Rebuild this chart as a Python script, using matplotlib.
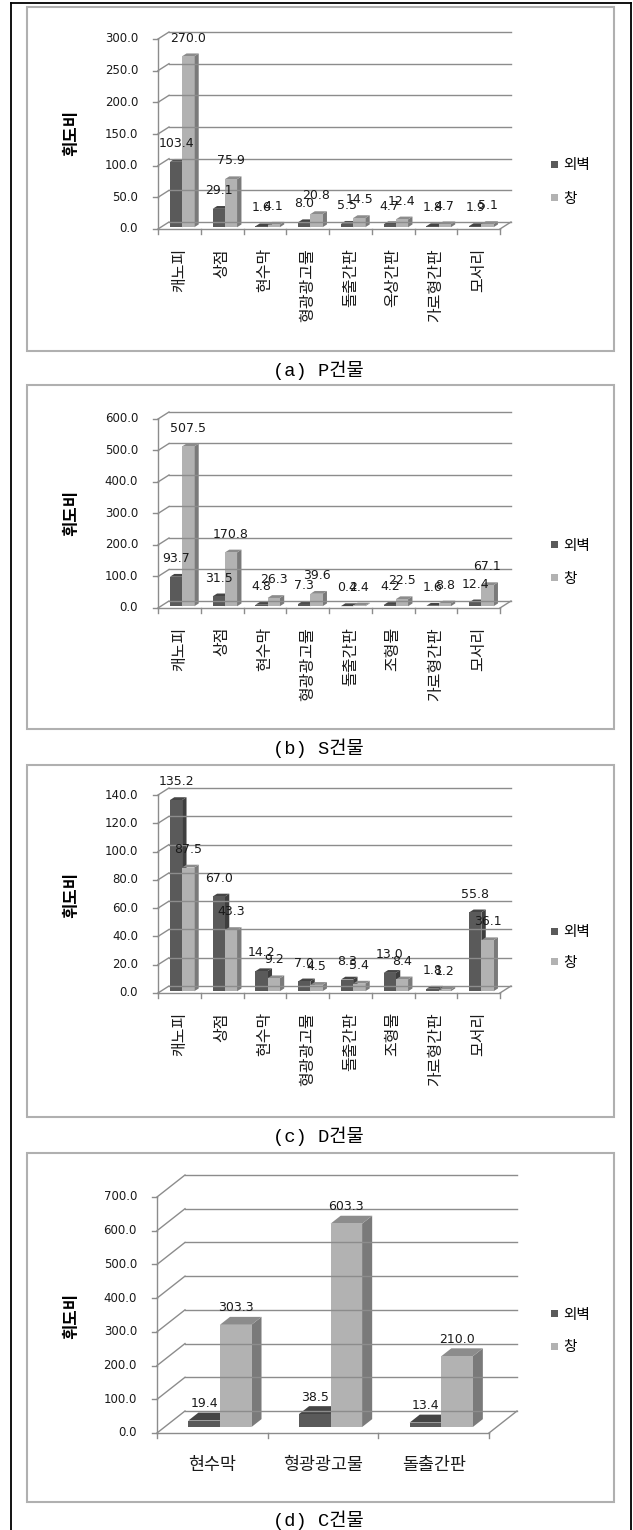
import matplotlib.pyplot as plt
from matplotlib.patches import Polygon, Rectangle
from matplotlib.lines import Line2D

W, H = 633, 1530

# luminance ratio (휘도비) per building: 외벽 (wall) vs 창 (window)
cats_a = ['캐노피', '상점', '현수막', '형광광고물', '돌출간판', '옥상간판', '가로형간판', '모서리']
wall_a = [103.4, 29.1, 1.6, 8.0, 5.5, 4.7, 1.8, 1.9]
window_a = [270.0, 75.9, 4.1, 20.8, 14.5, 12.4, 4.7, 5.1]

cats_b = ['캐노피', '상점', '현수막', '형광광고물', '돌출간판', '조형물', '가로형간판', '모서리']
wall_b = [93.7, 31.5, 4.8, 7.3, 0.4, 4.2, 1.6, 12.4]
window_b = [507.5, 170.8, 26.3, 39.6, 2.4, 22.5, 8.8, 67.1]

cats_c = ['캐노피', '상점', '현수막', '형광광고물', '돌출간판', '조형물', '가로형간판', '모서리']
wall_c = [135.2, 67.0, 14.2, 7.0, 8.3, 13.0, 1.8, 55.8]
window_c = [87.5, 43.3, 9.2, 4.5, 5.4, 8.4, 1.2, 36.1]

cats_d = ['현수막', '형광광고물', '돌출간판']
wall_d = [19.4, 38.5, 13.4]
window_d = [303.3, 603.3, 210.0]

series_names = ['외벽', '창']

DARK = ('#5a5a5a', '#3e3e3e', '#454545')     # front, side, top
LIGHT = ('#b2b2b2', '#7a7a7a', '#8c8c8c')
GRID = '#8c8c8c'
SANS = ['DejaVu Sans', 'Noto Sans CJK KR']
CAPTION = ['Liberation Mono', 'Noto Sans CJK KR']

fig = plt.figure(figsize=(W / 100, H / 100), dpi=100)


def fx(x):
    return x / W


def fy(y):
    return 1 - y / H


# outer frame
for xs, ys in [((11, 11), (3, H)), ((631, 631), (3, H)), ((11, 631), (3, 3))]:
    fig.add_artist(Line2D([fx(v) for v in xs], [fy(v) for v in ys],
                          transform=fig.transFigure, color='black', lw=1.3))


def panel(box, plane, wall_px, bar_frac, cats, s1, s2, ymax, step,
          caption, cap_y, ylab_y, leg_y, gap, rotate):
    bx0, by0, bx1, by1 = box
    fig.add_artist(Rectangle((fx(bx0), fy(by1)), (bx1 - bx0) / W, (by1 - by0) / H,
                             transform=fig.transFigure, fill=False,
                             ec='#b0b0b0', lw=1.5))
    x0, x1, y0, ytop = plane
    ax = fig.add_axes([fx(x0), fy(y0), (x1 - x0) / W, (y0 - ytop) / H])
    n = len(cats)
    ax.set_xlim(0, n)
    ax.set_ylim(0, ymax)
    ax.axis('off')
    ux = (x1 - x0) / n        # px per category
    uy = (y0 - ytop) / ymax   # px per value unit
    wdx, wdy = wall_px[0] / ux, wall_px[1] / uy

    def line(xs, ys, **kw):
        ax.add_line(Line2D(xs, ys, color=GRID, lw=1.0, clip_on=False, **kw))

    # back wall grid, side wall diagonals, axes and floor
    v = 0
    while v <= ymax + 1e-9:
        line([0, wdx], [v, v + wdy])
        line([wdx, n + wdx], [v + wdy, v + wdy])
        line([-5 / ux, 0], [v, v])
        ax.text(-20 / ux, v, f'{v:.1f}', ha='right', va='center',
                fontsize=8.5, family=SANS, color='#1a1a1a')
        v += step
    line([0, 0], [0, ymax])
    line([0, n], [0, 0])
    line([n, n + wdx], [0, wdy])
    for i in range(n + 1):
        line([i, i], [0, -5 / uy])

    # bars with side and top faces
    bw = 0.285
    f0, fd = bar_frac
    sx, sy = f0 * wdx, f0 * wdy
    bdx, bdy = fd * wdx, fd * wdy
    for i in range(n):
        for k, (vals, col) in enumerate([(s1, DARK), (s2, LIGHT)]):
            val = vals[i]
            left = i + 0.5 - bw + k * bw + sx
            b = sy
            r = left + bw
            ax.add_patch(Polygon([(r, b), (r + bdx, b + bdy), (r + bdx, b + bdy + val), (r, b + val)],
                                 closed=True, fc=col[1], ec='none', clip_on=False))
            ax.add_patch(Polygon([(left, b + val), (r, b + val), (r + bdx, b + val + bdy),
                                  (left + bdx, b + val + bdy)],
                                 closed=True, fc=col[2], ec='none', clip_on=False))
            ax.add_patch(Rectangle((left, b), bw, val, fc=col[0], ec='none', clip_on=False))
            ax.text(left + bw / 2, val + gap / uy, f'{val:.1f}', ha='center', va='center',
                    fontsize=9, family=SANS, color='#1a1a1a', clip_on=False)

    # category labels
    for i, c in enumerate(cats):
        if rotate:
            ax.text(i + 0.5, -19 / uy, c, rotation=90, ha='center', va='top',
                    fontsize=11.5, family=SANS, color='#1a1a1a')
        else:
            ax.text(i + 0.5, -32 / uy, c, ha='center', va='center',
                    fontsize=12.5, family=SANS, color='#1a1a1a')

    # axis title
    fig.text(fx(71), fy(ylab_y), '휘도비', rotation=90, ha='center', va='center',
             fontsize=12, fontweight='bold', family=SANS)

    # legend
    for j, (name, col) in enumerate(zip(series_names, [DARK, LIGHT])):
        yy = leg_y[j]
        fig.add_artist(Rectangle((fx(551), fy(yy + 3)), 7 / W, 7 / H,
                                 transform=fig.transFigure, fc=col[0], ec='none'))
        fig.text(fx(563), fy(yy), name, ha='left', va='center',
                 fontsize=10.5, family=SANS)

    fig.text(fx(318), fy(cap_y), caption, ha='center', va='center',
             fontsize=13.5, family=CAPTION)


panel((27, 7, 614, 351), (158, 500, 229, 39), (11, 7), (0.25, 0.4),
      cats_a, wall_a, window_a, 300, 50, '(a) P건물', 370, 133, (165, 198), 20, True)
panel((27, 385, 614, 729), (158, 500, 608, 419), (11, 7), (0.25, 0.4),
      cats_b, wall_b, window_b, 600, 100, '(b) S건물', 748, 513, (545, 578), 20, True)
panel((27, 765, 614, 1117), (158, 500, 993, 795), (11, 7), (0.25, 0.4),
      cats_c, wall_c, window_c, 140, 20, '(c) D건물', 1136, 895, (932, 962), 20, True)
panel((27, 1153, 614, 1502), (157, 489, 1433, 1197), (28, 22), (0.27, 0.36),
      cats_d, wall_d, window_d, 700, 100, '(d) C건물', 1520, 1316, (1314, 1347), 23, False)

fig.savefig('out.png', dpi=100)
